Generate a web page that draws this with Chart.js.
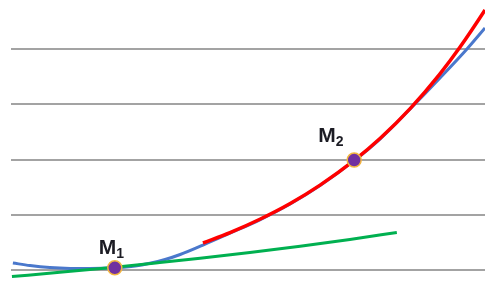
<!DOCTYPE html>
<html>
<head>
<meta charset="utf-8">
<script src="https://cdn.jsdelivr.net/npm/chart.js@4"></script>
<style>
  html, body { margin: 0; padding: 0; background: #fff; }
  #wrap { width: 485px; height: 282px; }
</style>
</head>
<body>
<div id="wrap"><canvas id="curves"></canvas></div>
<script>
// curve y = f(x)
const curveX = [0.04, 0.40, 0.82, 1.25, 1.67, 2.19, 2.62, 2.93, 3.25, 3.57, 4.05, 4.62, 5.25, 5.89, 6.52, 7.24, 7.79, 8.42, 9.05, 9.62, 10.0, 10.25];
const curveY = [0.127, 0.081, 0.045, 0.029, 0.027, 0.04, 0.072, 0.121, 0.19, 0.281, 0.452, 0.666, 0.909, 1.195, 1.529, 1.98, 2.375, 2.914, 3.475, 4.0, 4.38, 4.633];

// approximation around M2
const approxX = [4.05, 4.62, 5.25, 5.89, 6.52, 7.24, 7.79, 8.42, 9.05, 9.47, 10.0, 10.21];
const approxY = [0.489, 0.677, 0.919, 1.204, 1.537, 1.984, 2.384, 2.921, 3.551, 4.031, 4.706, 4.995];

// tangent at M1
const tangentX = [0.02, 1.03, 2.19, 3.14, 3.99, 5.04, 6.10, 7.15, 8.14];
const tangentY = [-0.118, -0.042, 0.049, 0.134, 0.214, 0.317, 0.429, 0.552, 0.679];

const pointX = [2.19, 7.24];
const pointY = [0.04, 1.99];
const pointLabels = ["M1", "M2"];

const gridValues = [0, 1, 2, 3, 4];

const zip = (xs, ys) => xs.map((x, i) => ({ x: x, y: ys[i] }));

// label offsets from each point (px): left edge of "M", baseline
const labelOffsets = [[-16, -14], [-36, -18]];

const pointLabelPlugin = {
  id: "pointLabels",
  afterDatasetsDraw(chart) {
    const ctx = chart.ctx;
    const meta = chart.getDatasetMeta(0);
    ctx.save();
    ctx.fillStyle = "#1c1c24";
    ctx.textBaseline = "alphabetic";
    ctx.textAlign = "left";
    meta.data.forEach((pt, i) => {
      const txt = pointLabels[i];
      const x = pt.x + labelOffsets[i][0];
      const y = pt.y + labelOffsets[i][1];
      ctx.font = "bold 21px 'Liberation Sans', Arial, sans-serif";
      ctx.fillText(txt[0], x, y);
      const w = ctx.measureText(txt[0]).width;
      ctx.font = "bold 14px 'Liberation Sans', Arial, sans-serif";
      ctx.fillText(txt.slice(1), x + w, y + 4);
    });
    ctx.restore();
  }
};

new Chart(document.getElementById("curves"), {
  type: "scatter",
  data: {
    datasets: [
      {
        label: "points",
        data: zip(pointX, pointY),
        pointRadius: 7,
        pointBorderWidth: 1.5,
        pointBackgroundColor: "#7030a0",
        pointBorderColor: "#f2b640",
        showLine: false,
      },
      {
        label: "tangent",
        data: zip(tangentX, tangentY),
        showLine: true,
        borderColor: "#00b050",
        borderWidth: 3,
        pointRadius: 0,
        cubicInterpolationMode: "monotone",
      },
      {
        label: "approx",
        data: zip(approxX, approxY),
        showLine: true,
        borderColor: "#ff0000",
        borderWidth: 3.5,
        pointRadius: 0,
        cubicInterpolationMode: "monotone",
      },
      {
        label: "curve",
        data: zip(curveX, curveY),
        showLine: true,
        borderColor: "#4a78cc",
        borderWidth: 3,
        pointRadius: 0,
        cubicInterpolationMode: "monotone",
      },
    ],
  },
  options: {
    responsive: true,
    maintainAspectRatio: false,
    animation: false,
    layout: { autoPadding: false, padding: { left: 11, right: 0, top: 0, bottom: 0 } },
    plugins: {
      legend: { display: false },
      tooltip: { enabled: false },
    },
    scales: {
      x: {
        type: "linear",
        display: false,
        min: 0,
        max: 10,
      },
      y: {
        type: "linear",
        min: -0.217,
        max: 4.887,
        afterBuildTicks: (scale) => {
          scale.ticks = gridValues.map((v) => ({ value: v }));
        },
        ticks: { display: false },
        border: { display: false },
        grid: { color: "#a3a3a3", lineWidth: 2, drawTicks: false },
      },
    },
  },
  plugins: [pointLabelPlugin],
});
</script>
</body>
</html>
